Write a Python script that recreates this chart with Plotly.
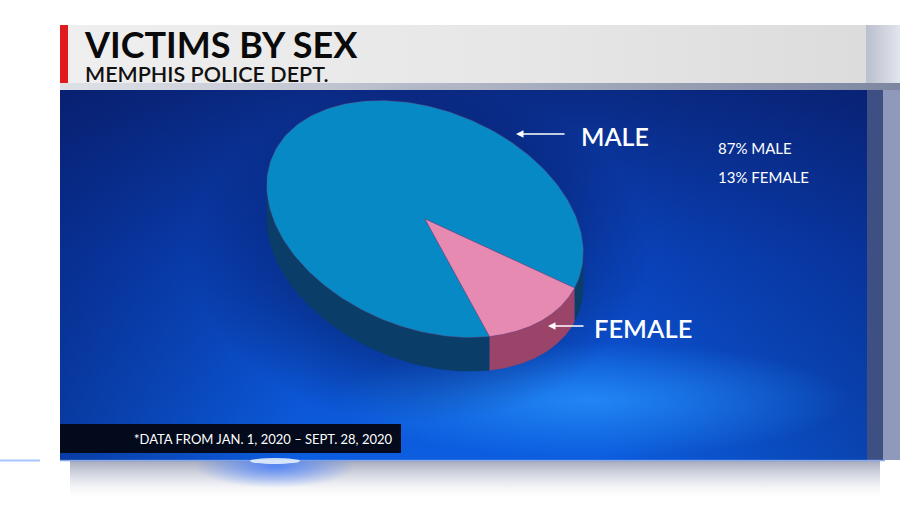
import numpy as np
import plotly.graph_objects as go

# ---------------- data ----------------
categories = ["Male", "Female"]
values = [87, 13]
label_texts = ["MALE", "FEMALE"]
top_colors = ["#0689c4", "#e68ab2"]
side_colors = ["#0a3d68", "#9a4469"]
title = "VICTIMS BY SEX"
subtitle = "MEMPHIS POLICE DEPT."
footnote = "*DATA FROM JAN. 1, 2020 \u2013 SEPT. 28, 2020"

# ---------------- geometry ----------------
W, H = 900, 506
CX, CY = 425, 219          # centre of top face
A, B = 165, 109            # semi axes of the tilted pie
PHI = np.deg2rad(22)       # tilt of the ellipse
DEPTH = 34                 # thickness of the pie
START = 51.0               # start angle (deg) of first slice, clockwise
FONT = "Lato"

def pt(t_deg, dy=0.0):
    t = np.deg2rad(np.asarray(t_deg, dtype=float))
    u, v = A * np.cos(t), B * np.sin(t)
    x = CX + u * np.cos(PHI) - v * np.sin(PHI)
    y = CY + u * np.sin(PHI) + v * np.cos(PHI) + dy
    return x, y

def ellipse(cx, cy, rx, ry, n=120):
    t = np.linspace(0, 2 * np.pi, n)
    return cx + rx * np.cos(t), cy + ry * np.sin(t)

def rect(x0, x1, y0, y1):
    return [x0, x1, x1, x0, x0], [y0, y0, y1, y1, y0]

fig = go.Figure()

def poly(xy, **kw):
    x, y = xy
    fig.add_trace(go.Scatter(x=list(x), y=list(y), mode="lines", fill="toself",
                             line=dict(width=0), hoverinfo="skip", showlegend=False, **kw))

# ---------------- background ----------------
# bottom drop shadow
poly(rect(70, 880, 461, 500),
     fillgradient=dict(type="vertical", start=461, stop=500,
                       colorscale=[[0, "rgba(150,156,178,0.85)"], [0.5, "rgba(200,204,218,0.5)"],
                                   [1, "rgba(255,255,255,0)"]]))
poly(ellipse(275, 466, 80, 22),
     fillgradient=dict(type="radial",
                       colorscale=[[0, "rgba(60,120,255,0.8)"], [1, "rgba(60,120,255,0)"]]))
# header-to-panel band
poly(rect(60, 900, 83, 90),
     fillgradient=dict(type="horizontal", start=60, stop=900,
                       colorscale=[[0, "#dfe1e7"], [1, "#7d87a1"]]))
# blue panel
poly(rect(60, 867, 90, 460),
     fillgradient=dict(type="vertical", start=90, stop=460,
                       colorscale=[[0, "#0a2a84"], [0.45, "#0a44bd"], [1, "#0c5ee0"]]))
poly(rect(60, 300, 90, 460),
     fillgradient=dict(type="horizontal", start=60, stop=300,
                       colorscale=[[0, "rgba(5,20,90,0.45)"], [1, "rgba(5,20,90,0)"]]))
poly(rect(600, 867, 90, 460),
     fillgradient=dict(type="horizontal", start=600, stop=867,
                       colorscale=[[0, "rgba(5,20,90,0)"], [1, "rgba(5,20,90,0.35)"]]))
poly(ellipse(590, 400, 260, 58),
     fillgradient=dict(type="radial",
                       colorscale=[[0, "rgba(40,150,255,0.75)"], [1, "rgba(40,150,255,0)"]]))
# soft shadow under the pie
poly(ellipse(CX - 5, CY + 35, 230, 170),
     fillgradient=dict(type="radial",
                       colorscale=[[0, "rgba(3,15,70,0.55)"], [0.6, "rgba(3,15,70,0.35)"],
                                   [1, "rgba(3,15,70,0)"]]))
# header bar
poly(rect(60, 866, 25, 83),
     fillgradient=dict(type="horizontal", start=60, stop=866,
                       colorscale=[[0, "#efefef"], [0.6, "#e6e6e6"], [1, "#dcdcdc"]]))
poly(rect(866, 900, 25, 83),
     fillgradient=dict(type="horizontal", start=866, stop=900,
                       colorscale=[[0, "#b9bfcd"], [1, "#e2e5ec"]]))

# ---------------- pie ----------------
total = float(sum(values))
spans = [v / total * 360.0 for v in values]
starts = list(np.cumsum([START] + spans[:-1]))

t_right = np.rad2deg(np.arctan2(-B * np.sin(PHI), A * np.cos(PHI)))
t_left = t_right + 180.0
windows = [(t_right, t_left), (t_right + 360, t_left + 360)]

for s, sp, col in zip(starts, spans, side_colors):
    a0, a1 = s, s + sp
    for w0, w1 in windows:
        lo, hi = max(a0, w0), min(a1, w1)
        if hi > lo:
            ts = np.linspace(lo, hi, 80)
            xt, yt = pt(ts)
            xb, yb = pt(ts[::-1], DEPTH)
            poly((np.concatenate([xt, xb, xt[:1]]), np.concatenate([yt, yb, yt[:1]])),
                 fillcolor=col)

for s, sp, col, cat, v in zip(starts, spans, top_colors, categories, values):
    ts = np.linspace(s, s + sp, 200)
    xa, ya = pt(ts)
    fig.add_trace(go.Scatter(
        x=[CX] + list(xa) + [CX], y=[CY] + list(ya) + [CY], mode="lines", fill="toself",
        fillcolor=col, line=dict(width=0.6, color="rgba(120,60,110,0.6)"),
        name=cat, hovertemplate=f"{cat}: {v}%<extra></extra>", showlegend=False))

# ---------------- decorative shapes ----------------
shapes = [
    dict(type="rect", x0=60, x1=68, y0=25, y1=83, xref="x", yref="y",
         fillcolor="#e01b1b", line_width=0, layer="above"),
    dict(type="rect", x0=867, x1=883, y0=90, y1=460, xref="x", yref="y",
         fillcolor="#3e5083", line_width=0, layer="below"),
    dict(type="rect", x0=883, x1=900, y0=90, y1=460, xref="x", yref="y",
         fillcolor="#8f99b9", line_width=0, layer="below"),
    dict(type="line", x0=60, x1=885, y0=460.5, y1=460.5, xref="x", yref="y",
         line=dict(color="rgba(110,150,230,0.8)", width=1.5), layer="above"),
    dict(type="line", x0=0, x1=40, y0=460.5, y1=460.5, xref="x", yref="y",
         line=dict(color="rgba(80,140,255,0.5)", width=2), layer="above"),
    dict(type="circle", x0=250, x1=300, y0=458, y1=464, xref="x", yref="y",
         fillcolor="rgba(235,245,255,0.85)", line_width=0, layer="above"),
    dict(type="rect", x0=60, x1=401, y0=424, y1=453, xref="x", yref="y",
         fillcolor="#030a1c", line_width=0, layer="above"),
]

annotations = [
    dict(x=82, y=44, text=f"<b>{title}</b>", showarrow=False, xanchor="left", yanchor="middle",
         font=dict(family=FONT, size=36, color="#0a0a0a", weight=900)),
    dict(x=83, y=74, text=subtitle, showarrow=False, xanchor="left", yanchor="middle",
         font=dict(family=FONT, size=21.5, color="#111111", weight=600)),
    dict(x=132, y=439, text=footnote, showarrow=False, xanchor="left", yanchor="middle",
         font=dict(family=FONT, size=13, color="white")),
    dict(x=516, y=134, ax=566, ay=134, axref="x", ayref="y", xref="x", yref="y", text="",
         showarrow=True, arrowhead=2, arrowsize=1, arrowwidth=1.5, arrowcolor="white"),
    dict(x=548, y=326, ax=585, ay=326, axref="x", ayref="y", xref="x", yref="y", text="",
         showarrow=True, arrowhead=2, arrowsize=1, arrowwidth=1.5, arrowcolor="white"),
    dict(x=579, y=136, text=label_texts[0], showarrow=False, xanchor="left", yanchor="middle",
         font=dict(family=FONT, size=25, color="white", weight=600)),
    dict(x=592, y=328, text=label_texts[1], showarrow=False, xanchor="left", yanchor="middle",
         font=dict(family=FONT, size=25.5, color="white", weight=600)),
]
for i, (lab, v) in enumerate(zip(label_texts, values)):
    annotations.append(dict(x=716, y=148 + 29 * i, text=f"{v}% {lab}", showarrow=False,
                            xanchor="left", yanchor="middle",
                            font=dict(family=FONT, size=15, color="white")))

fig.update_layout(
    width=W, height=H, margin=dict(l=0, r=0, t=0, b=0),
    paper_bgcolor="white", plot_bgcolor="white",
    xaxis=dict(range=[0, W], visible=False, fixedrange=True),
    yaxis=dict(range=[H, 0], visible=False, fixedrange=True),
    shapes=shapes, annotations=annotations, showlegend=False,
)

fig.write_html("out.html", config={"displayModeBar": False},
               post_script="document.body.style.margin='0';document.body.style.overflow='hidden';")
